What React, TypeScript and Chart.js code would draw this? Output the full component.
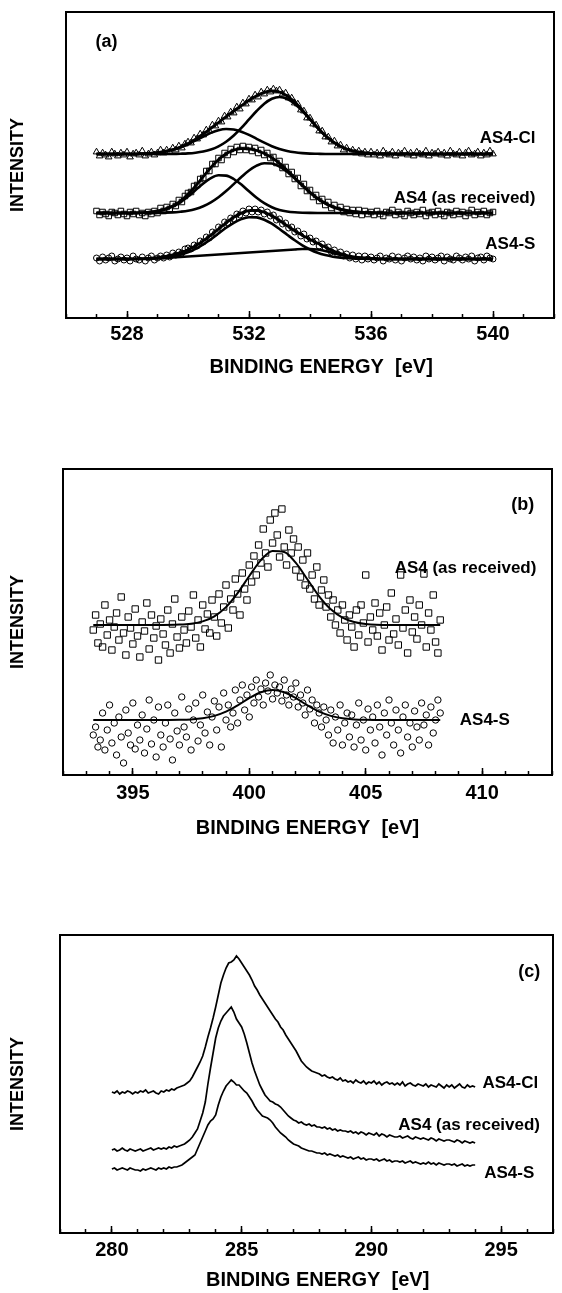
import React, { useEffect, useRef } from 'react';
import { Chart, registerables } from 'chart.js';

Chart.register(...registerables);

const FONT = '"Liberation Sans", Arial, Helvetica, sans-serif';

// ---------------- Panel (a) : O 1s ----------------
const aTicksMajor = [528, 532, 536, 540];
const aScatterStart = 527.0;
const aScatterStep = 0.1;
const aClPts = [
  166, 162, 165, 163, 161, 166, 164, 162, 165, 163, 166, 161, 164, 165, 163, 167, 162, 164, 166, 163, 165,
  168, 165, 168, 166, 170, 168, 172, 170, 174,
  176, 175, 180, 179, 184, 183, 188, 187, 193, 192,
  197, 196, 202, 201, 206, 205, 211, 209, 215, 214,
  219, 218, 223, 221, 226, 224, 228, 226, 229, 227,
  228, 224, 225, 220, 220, 215, 214, 208, 207, 200,
  200, 194, 193, 187, 187, 181, 181, 176, 177, 172,
  173, 168, 170, 166, 168, 165, 167, 164, 166, 163,
  166, 163, 165, 162, 167, 164, 163, 166, 162, 165, 164, 167, 163, 165, 162, 166, 164, 163, 167, 162,
  165, 164, 166, 163, 165, 162, 167, 164, 163, 166, 162, 165, 167, 163, 164, 166, 162, 165, 163, 167, 164,
];
const aAs4Pts = [
  107, 103, 106, 104, 102, 106, 105, 103, 107, 104, 102, 106, 104, 107, 103, 105, 102, 106, 104, 107, 105,
  110, 107, 111, 109, 114, 112, 118, 116, 122,
  125, 126, 132, 133, 139, 140, 147, 147, 154, 154,
  160, 158, 165, 163, 169, 166, 171, 168, 172, 168,
  171, 167, 170, 165, 168, 163, 165, 160, 161, 155,
  157, 150, 151, 144, 146, 139, 140, 132, 134, 127,
  128, 121, 123, 117, 119, 113, 116, 110, 113, 108,
  111, 106, 109, 105, 108, 104, 108, 103, 107, 104,
  106, 103, 107, 104, 102, 106, 105, 108, 103, 106, 104, 102, 107, 105, 103, 106, 104, 108, 102, 105,
  106, 103, 107, 104, 102, 106, 105, 103, 107, 104, 106, 102, 105, 108, 103, 106, 104, 107, 103, 105, 106,
];
const aSPts = [
  60, 57, 61, 58, 60, 62, 57, 59, 61, 58, 60, 57, 62, 59, 58, 61, 57, 60, 62, 58, 60,
  62, 60, 63, 61, 65, 63, 66, 65, 69,
  70, 69, 73, 72, 77, 76, 81, 80, 86, 85,
  91, 90, 96, 95, 100, 99, 104, 103, 107, 105,
  109, 106, 109, 106, 108, 104, 106, 102, 103, 98,
  99, 94, 95, 90, 91, 86, 87, 82, 84, 79,
  80, 76, 77, 72, 74, 70, 71, 66, 68, 64,
  66, 62, 64, 60, 63, 59, 62, 58, 62, 59,
  61, 58, 60, 62, 57, 60, 59, 62, 58, 61, 57, 60, 62, 59, 61, 58, 60, 57, 62, 59,
  61, 58, 60, 62, 57, 61, 59, 58, 62, 60, 58, 61, 59, 62, 57, 60, 61, 58, 62, 60, 59,
];
const aFitX = [
  527, 528, 529, 529.5, 529.75, 530, 530.25, 530.5, 530.75, 531, 531.25, 531.5, 531.75,
  532, 532.25, 532.5, 532.75, 533, 533.25, 533.5, 533.75, 534, 534.25,
  534.5, 534.75, 535, 535.25, 535.5, 535.75, 536, 536.5, 537, 538, 539, 540,
];
const aClFit = [
  164, 164, 165.3, 168.3, 170.9, 174.4, 178.9, 184, 189.6, 195.5, 201.3, 207, 212.4,
  217.7, 222.2, 225.6, 227, 226, 222.2, 216, 207.9, 199, 190.3,
  182.5, 176.3, 171.7, 168.5, 166.5, 165.3, 164.6, 164, 164, 164, 164, 164,
];
const aClComp1 = [
  164, 164, 165.3, 168.2, 170.6, 173.8, 177.6, 181.5, 185.1, 187.8, 189, 188.5, 186.3,
  183.1, 179.2, 175.3, 171.8, 169, 167, 165.7, 164.9, 164.4, 164.2,
  164, 164, 164, 164, 164, 164, 164, 164, 164, 164, 164, 164,
];
const aClComp2 = [
  164, 164, 164, 164.1, 164.3, 164.6, 165.3, 166.5, 168.5, 171.7, 176.3, 182.5, 190.1,
  198.6, 207, 214.3, 219.2, 221, 219.2, 214.3, 207, 198.6, 190.1,
  182.5, 176.3, 171.7, 168.5, 166.5, 165.3, 164.6, 164.1, 164, 164, 164, 164,
];
const aAs4Fit = [
  105, 105, 106.9, 112.1, 117, 123.7, 132.1, 141.4, 150.5, 158.4, 164.3, 167.9, 169.4,
  169.2, 167.5, 164.6, 160.3, 154.6, 147.8, 140.3, 132.7, 125.6, 119.5,
  114.7, 111.1, 108.7, 107.1, 106.1, 105.5, 105.3, 105, 105, 105, 105, 105,
];
const aAs4Comp1 = [
  105, 105, 106.8, 111.5, 115.7, 121.4, 128, 134.6, 139.9, 142.7, 142.4, 139, 133.4,
  126.7, 120.2, 114.8, 110.8, 108.1, 106.5, 105.7, 105.3, 105.1, 105,
  105, 105, 105, 105, 105, 105, 105, 105, 105, 105, 105, 105,
];
const aAs4Comp2 = [
  105, 105, 105.1, 105.6, 106.3, 107.3, 109.1, 111.8, 115.6, 120.7, 126.9, 133.9, 141,
  147.5, 152.3, 154.8, 154.5, 151.5, 146.3, 139.6, 132.4, 125.6, 119.5,
  114.7, 111.1, 108.7, 107.1, 106.1, 105.5, 105.3, 105, 105, 105, 105, 105,
];
const aSFit = [
  59, 59, 60.3, 63.1, 65.3, 68.3, 72.2, 77.1, 82.8, 89, 95.2, 100.7, 104.9,
  107.3, 107.6, 105.8, 102.3, 97.5, 92.3, 87.2, 82.6, 78.5, 74.7,
  70.9, 67.3, 64.3, 62.2, 60.8, 60.2, 59.6, 59, 59, 59, 59, 59,
];
const aSComp1 = [
  59, 59, 59.8, 61.6, 63.3, 65.8, 69.2, 73.6, 78.8, 84.5, 90.2, 95.2, 98.9,
  100.8, 100.6, 98.3, 94.3, 89, 83.3, 77.7, 72.6, 68.5, 65.2,
  62.9, 61.3, 60.3, 59.7, 59.3, 59.2, 59.1, 59, 59, 59, 59, 59,
];
const aSComp2 = [
  59, 59, 59.5, 60.5, 61, 61.5, 62, 62.5, 63, 63.5, 64, 64.5, 65,
  65.5, 66, 66.5, 67, 67.5, 68, 68.5, 69, 69, 68.5,
  67, 65, 63, 61.5, 60.5, 60, 59.5, 59, 59, 59, 59, 59,
];

// ---------------- Panel (b) : N 1s ----------------
const bTicksMajor = [395, 400, 405, 410];
const bScatterStart = 393.3;
const bScatterStep = 0.1;
const bAs4Pts = [
  145, 160, 132, 151, 128, 170, 140, 155, 125, 148,
  162, 135, 178, 142, 120, 158, 147, 131, 166, 139,
  118, 153, 144, 172, 126, 160, 137, 149, 115, 156,
  141, 130, 165, 122, 151, 176, 138, 127, 158, 145,
  132, 164, 148, 180, 137, 155, 128, 170, 146, 161,
  142, 175, 158, 139, 181, 152, 168, 190, 147, 176,
  165, 196, 181, 160, 202, 186, 175, 210, 193, 219,
  200, 230, 212, 246, 222, 208, 255, 232, 262, 240,
  218, 266, 228, 210, 245, 222, 236, 205, 228, 198,
  215, 190, 222, 186, 200, 176, 208, 170, 185, 195,
  168, 180, 158, 175, 150, 165, 142, 170, 155, 135,
  160, 148, 128, 165, 140, 170, 152, 200, 133, 158,
  145, 172, 139, 162, 125, 150, 168, 135, 182, 141,
  156, 130, 200, 147, 165, 122, 175, 143, 158, 136,
  170, 150, 201, 128, 162, 145, 180, 133, 122, 155,
];
const bSPts = [
  40, 48, 28, 35, 62, 25, 45, 70, 32, 52,
  20, 58, 38, 12, 65, 42, 30, 72, 26, 50,
  35, 60, 22, 46, 75, 31, 55, 18, 68, 40,
  28, 52, 70, 36, 15, 62, 44, 30, 78, 48,
  38, 66, 25, 55, 72, 34, 50, 80, 42, 63,
  30, 58, 74, 45, 68, 28, 82, 55, 70, 48,
  62, 85, 52, 75, 90, 65, 80, 58, 88, 72,
  95, 78, 86, 70, 92, 84, 100, 76, 90, 82,
  88, 74, 95, 80, 70, 86, 78, 92, 68, 80,
  72, 60, 85, 66, 75, 52, 70, 62, 48, 68,
  55, 40, 65, 32, 58, 45, 70, 30, 52, 62,
  38, 60, 28, 50, 72, 35, 55, 25, 66, 45,
  58, 32, 70, 48, 20, 62, 40, 75, 52, 30,
  65, 45, 22, 58, 70, 38, 52, 28, 64, 48,
  35, 72, 50, 60, 30, 68, 42, 55, 75, 62,
];
const bFitX = [
  393.3, 394, 395, 396, 397, 397.5, 398, 398.5, 399, 399.5, 400, 400.5,
  401, 401.5, 402, 402.5, 403, 403.5, 404, 404.5, 405, 406, 407, 408.2,
];
const bAs4Fit = [
  150, 150, 150, 150, 150.4, 151.3, 153.6, 158.7, 167.9, 181.9, 199, 214.9,
  224.1, 223, 212.1, 195.5, 178.7, 165.7, 157.4, 153, 151, 150, 150, 150,
];
const bSFit = [
  55, 55, 55, 55, 55.2, 55.6, 56.7, 59.1, 63.3, 69.6, 76.8, 82.7,
  85, 82.7, 76.8, 69.6, 63.3, 59.1, 56.7, 55.6, 55.2, 55, 55, 55,
];

// ---------------- Panel (c) : C 1s ----------------
const cTicksMajor = [280, 285, 290, 295];
const cStart = 280.0;
const cStep = 0.1;
const cCl = [
  141, 140, 142, 139, 141, 140, 142, 141, 139, 141,
  140, 142, 141, 143, 140, 141, 142, 140, 139, 142,
  141, 143, 142, 144, 143, 145, 146, 147, 148, 150,
  152, 156, 161, 166, 171, 177, 186, 196, 205, 215,
  226, 238, 250, 258, 265, 270, 271, 273, 277, 274,
  270, 266, 262, 258, 253, 247, 243, 238, 234, 230,
  226, 222, 218, 214, 211, 206, 203, 198, 194, 190,
  186, 182, 177, 172, 169, 166, 164, 162, 161, 160,
  159, 157, 158, 156, 155, 156, 154, 153, 155, 152,
  153, 151, 152, 150, 153, 151, 150, 152, 149, 151,
  150, 152, 149, 151, 148, 150, 151, 149, 150, 148,
  150, 148, 151, 147, 149, 150, 148, 147, 149, 148,
  147, 149, 146, 148, 147, 146, 149, 147, 145, 148,
  146, 148, 145, 147, 149, 146, 145, 148, 146, 147,
  146,
];
const cAs4 = [
  83, 84, 82, 83, 85, 83, 82, 84, 83, 82,
  83, 84, 82, 83, 84, 85, 83, 84, 85, 84,
  85, 84, 86, 85, 87, 86, 87, 88, 89, 91,
  93, 96, 100, 104, 112, 120, 131, 149, 165, 180,
  195, 205, 212, 217, 220, 223, 226, 221, 214, 210,
  206, 199, 190, 180, 170, 162, 155, 148, 143, 138,
  135, 132, 131, 129, 128, 126, 123, 120, 117, 115,
  113, 112, 110, 111, 109, 108, 109, 107, 108, 106,
  106, 105, 106, 104, 105, 103, 104, 102, 103, 102,
  102, 101, 102, 100, 101, 99, 101, 100, 98, 100,
  99, 98, 100, 97, 99, 98, 96, 98, 97, 96,
  96, 97, 95, 96, 97, 95, 94, 96, 95, 94,
  95, 94, 93, 95, 94, 92, 94, 93, 92, 93,
  93, 92, 91, 93, 92, 90, 92, 91, 90, 91,
  90,
];
const cS = [
  64, 65, 63, 64, 65, 64, 63, 65, 64, 63,
  63, 62, 64, 63, 64, 65, 64, 63, 65, 64,
  65, 64, 66, 65, 66, 66, 67, 68, 70, 72,
  74, 76, 78, 84, 90, 96, 102, 108, 112, 114,
  118, 128, 136, 142, 147, 150, 153, 151, 148, 148,
  145, 142, 140, 136, 132, 127, 123, 120, 117, 116,
  115, 113, 110, 106, 103, 100, 98, 96, 93, 91,
  89, 88, 87, 85, 84, 83, 82, 82, 81, 80,
  80, 79, 80, 78, 79, 78, 77, 78, 76, 77,
  76, 75, 76, 74, 75, 76, 74, 75, 73, 74,
  74, 73, 74, 72, 73, 74, 72, 73, 71, 72,
  72, 71, 72, 70, 71, 72, 70, 71, 70, 69,
  70, 69, 71, 69, 70, 68, 70, 69, 68, 69,
  69, 68, 69, 67, 68, 69, 67, 68, 67, 68,
  68,
];

// ---------------- helpers ----------------
const seq = (x0: number, step: number, ys: number[]) =>
  ys.map((y, i) => ({ x: Math.round((x0 + i * step) * 100) / 100, y }));
const zip = (xs: number[], ys: number[]) => xs.map((x, i) => ({ x, y: ys[i] }));

const fitLine = (xs: number[], ys: number[], w: number) => ({
  data: zip(xs, ys),
  xAxisID: 'x',
  yAxisID: 'y',
  showLine: true,
  borderColor: '#000',
  borderWidth: w,
  pointRadius: 0,
  cubicInterpolationMode: 'monotone',
  fill: false,
});
const rawLine = (x0: number, step: number, ys: number[], w: number) => ({
  data: seq(x0, step, ys),
  xAxisID: 'x',
  yAxisID: 'y',
  showLine: true,
  borderColor: '#000',
  borderWidth: w,
  pointRadius: 0,
  tension: 0,
  fill: false,
});
const markers = (x0: number, step: number, ys: number[], style: string, r: number) => ({
  data: seq(x0, step, ys),
  xAxisID: 'x',
  yAxisID: 'y',
  showLine: false,
  pointStyle: style,
  pointRadius: r,
  pointBorderWidth: 1,
  borderWidth: 1,
  borderColor: '#000',
  pointBorderColor: '#000',
  backgroundColor: 'rgba(0,0,0,0)',
  pointBackgroundColor: 'rgba(0,0,0,0)',
});

type Note = { text: string; x: number; y: number; align: CanvasTextAlign; size: number };

const framePlugin = {
  id: 'frame',
  afterDraw(chart: any) {
    const { ctx, chartArea: a } = chart;
    ctx.save();
    ctx.strokeStyle = '#000';
    ctx.lineWidth = 2;
    ctx.strokeRect(a.left, a.top, a.right - a.left, a.bottom - a.top);
    ctx.restore();
  },
};

const notesPlugin = {
  id: 'notes',
  afterDatasetsDraw(chart: any, _args: any, opts: any) {
    const { ctx } = chart;
    const xs = chart.scales.x;
    const ys = chart.scales.y;
    ctx.save();
    for (const n of (opts.items || []) as Note[]) {
      ctx.font = `bold ${n.size}px ${FONT}`;
      ctx.fillStyle = '#000';
      ctx.textAlign = n.align;
      ctx.textBaseline = 'middle';
      ctx.fillText(n.text, xs.getPixelForValue(n.x), ys.getPixelForValue(n.y));
    }
    ctx.restore();
  },
};

interface PanelSpec {
  top: number;
  height: number;
  padTop: number;
  padRight: number;
  frameLeft: number;
  xAxisHeight: number;
  xMin: number;
  xMax: number;
  yMax: number;
  majors: number[];
  tickPad: number;
  titlePad: number;
  xTitle: string;
  datasets: any[];
  notes: Note[];
}

function buildConfig(p: PanelSpec): any {
  const tickFont = { family: FONT, size: 20, weight: 'bold' as const };
  return {
    type: 'scatter',
    data: { datasets: p.datasets },
    plugins: [framePlugin, notesPlugin],
    options: {
      responsive: false,
      animation: false,
      devicePixelRatio: 1,
      events: [],
      layout: { padding: { top: p.padTop, right: p.padRight, left: 0, bottom: 0 } },
      plugins: {
        legend: { display: false },
        tooltip: { enabled: false },
        notes: { items: p.notes },
      },
      scales: {
        x: {
          type: 'linear',
          position: 'bottom',
          weight: 1,
          min: p.xMin,
          max: p.xMax,
          afterFit: (s: any) => {
            s.height = p.xAxisHeight;
          },
          ticks: {
            stepSize: 1,
            autoSkip: false,
            maxRotation: 0,
            padding: p.tickPad,
            color: '#000',
            font: tickFont,
            callback: (v: any) => (p.majors.includes(Number(v)) ? String(v) : ''),
          },
          grid: {
            drawOnChartArea: false,
            drawTicks: true,
            tickLength: -4,
            tickColor: '#000',
            tickWidth: 1.5,
          },
          border: { display: false },
          title: {
            display: true,
            text: p.xTitle,
            color: '#000',
            font: { family: FONT, size: 20, weight: 'bold' },
            padding: { top: 0, bottom: p.titlePad },
          },
        },
        xMajor: {
          type: 'linear',
          position: 'bottom',
          weight: 0,
          min: p.xMin,
          max: p.xMax,
          afterBuildTicks: (s: any) => {
            s.ticks = p.majors.map((v) => ({ value: v }));
          },
          afterFit: (s: any) => {
            s.height = 0;
          },
          ticks: { display: false },
          grid: {
            drawOnChartArea: false,
            drawTicks: true,
            tickLength: -7,
            tickColor: '#000',
            tickWidth: 1.5,
          },
          border: { display: false },
        },
        y: {
          type: 'linear',
          position: 'left',
          min: 0,
          max: p.yMax,
          afterFit: (s: any) => {
            s.width = p.frameLeft;
          },
          ticks: { display: false },
          grid: { display: false },
          border: { display: false },
          title: {
            display: true,
            text: 'INTENSITY',
            color: '#000',
            font: { family: FONT, size: 18, weight: 'bold' },
            padding: { top: 7, bottom: 0 },
          },
        },
      },
    },
  };
}

const panelA: PanelSpec = {
  top: 0,
  height: 420,
  padTop: 12,
  padRight: 1,
  frameLeft: 66,
  xAxisHeight: 102,
  xMin: 526,
  xMax: 542,
  yMax: 306,
  majors: aTicksMajor,
  tickPad: 8,
  titlePad: 41,
  xTitle: '    BINDING ENERGY  [eV]',
  datasets: [
    fitLine(aFitX, aClFit, 2.8),
    fitLine(aFitX, aClComp1, 2.6),
    fitLine(aFitX, aClComp2, 2.6),
    fitLine(aFitX, aAs4Fit, 2.8),
    fitLine(aFitX, aAs4Comp1, 2.6),
    fitLine(aFitX, aAs4Comp2, 2.6),
    fitLine(aFitX, aSFit, 2.8),
    fitLine(aFitX, aSComp1, 2.6),
    fitLine(aFitX, aSComp2, 2.6),
    markers(aScatterStart, aScatterStep, aClPts, 'triangle', 3.8),
    markers(aScatterStart, aScatterStep, aAs4Pts, 'rect', 3.9),
    markers(aScatterStart, aScatterStep, aSPts, 'circle', 3),
  ],
  notes: [
    { text: '(a)', x: 526.97, y: 276, align: 'left', size: 18 },
    { text: 'AS4-Cl', x: 541.39, y: 180, align: 'right', size: 17 },
    { text: 'AS4 (as received)', x: 541.39, y: 120, align: 'right', size: 17 },
    { text: 'AS4-S', x: 541.39, y: 73.5, align: 'right', size: 17 },
  ],
};

const panelB: PanelSpec = {
  top: 420,
  height: 440,
  padTop: 49,
  padRight: 1,
  frameLeft: 63,
  xAxisHeight: 85,
  xMin: 392,
  xMax: 413,
  yMax: 306,
  majors: bTicksMajor,
  tickPad: 10,
  titlePad: 20,
  xTitle: 'BINDING ENERGY  [eV]',
  datasets: [
    fitLine(bFitX, bAs4Fit, 2),
    fitLine(bFitX, bSFit, 2),
    markers(bScatterStart, bScatterStep, bAs4Pts, 'rect', 4.5),
    markers(bScatterStart, bScatterStep, bSPts, 'circle', 3.2),
  ],
  notes: [
    { text: '(b)', x: 412.24, y: 270, align: 'right', size: 18 },
    { text: 'AS4 (as received)', x: 412.33, y: 207, align: 'right', size: 17 },
    { text: 'AS4-S', x: 411.19, y: 55, align: 'right', size: 17 },
  ],
};

const panelC: PanelSpec = {
  top: 860,
  height: 433,
  padTop: 75,
  padRight: 4,
  frameLeft: 60,
  xAxisHeight: 60,
  xMin: 278,
  xMax: 297,
  yMax: 298,
  majors: cTicksMajor,
  tickPad: 9,
  titlePad: 1,
  xTitle: '    BINDING ENERGY  [eV]',
  datasets: [
    rawLine(cStart, cStep, cCl, 1.7),
    rawLine(cStart, cStep, cAs4, 1.7),
    rawLine(cStart, cStep, cS, 1.7),
  ],
  notes: [
    { text: '(c)', x: 296.51, y: 261, align: 'right', size: 18 },
    { text: 'AS4-Cl', x: 296.43, y: 150, align: 'right', size: 17 },
    { text: 'AS4 (as received)', x: 296.5, y: 108, align: 'right', size: 17 },
    { text: 'AS4-S', x: 296.28, y: 60, align: 'right', size: 17 },
  ],
};

function Panel({ spec }: { spec: PanelSpec }) {
  const ref = useRef<HTMLCanvasElement | null>(null);
  useEffect(() => {
    if (!ref.current) return;
    const chart = new Chart(ref.current, buildConfig(spec));
    return () => chart.destroy();
  }, [spec]);
  return (
    <div style={{ position: 'absolute', left: 0, top: spec.top, width: 562, height: spec.height }}>
      <canvas
        ref={ref}
        width={562}
        height={spec.height}
        style={{ display: 'block', width: 562, height: spec.height }}
      />
    </div>
  );
}

export default function App() {
  return (
    <div
      style={{
        position: 'absolute',
        left: 0,
        top: 0,
        width: 562,
        height: 1293,
        background: '#fff',
        overflow: 'hidden',
      }}
    >
      <Panel spec={panelA} />
      <Panel spec={panelB} />
      <Panel spec={panelC} />
    </div>
  );
}
